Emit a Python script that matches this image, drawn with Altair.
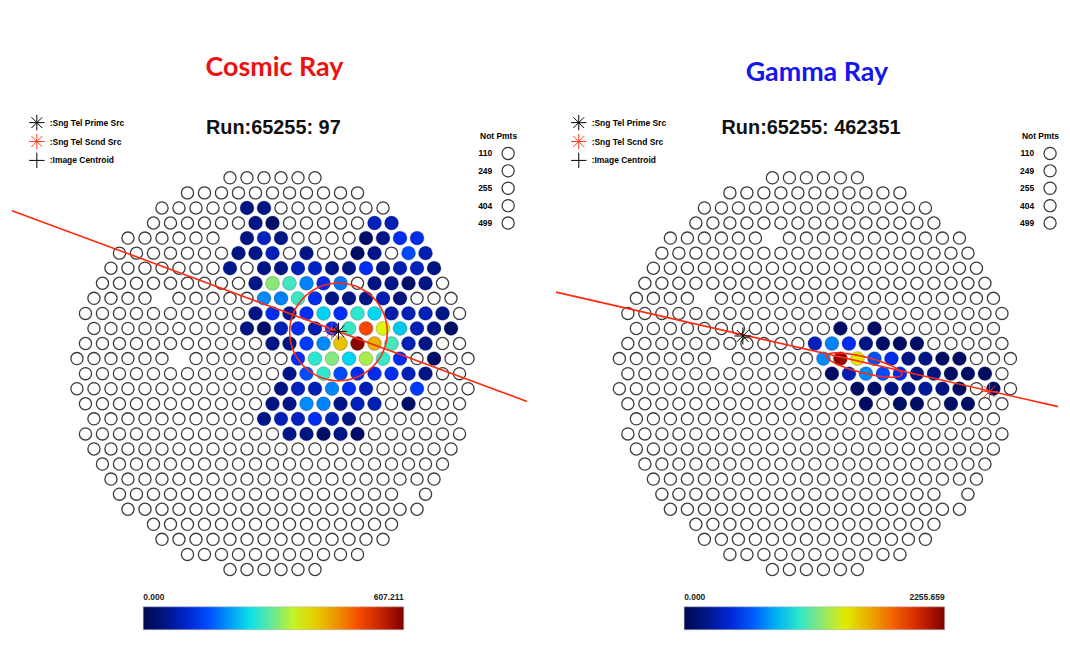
import math
import altair as alt
import pandas as pd

# ---------------- data ----------------
# camera layout: number of PMTs in each of the 27 hexagonal rows (top -> bottom)
ROW_COUNTS = [6, 11, 14, 15, 18, 19, 20, 21, 22, 23, 22, 23, 24, 23,
              24, 23, 22, 23, 22, 21, 20, 19, 18, 15, 14, 11, 6]
# camera positions that carry no PMT (row, column offset from centre)
GAP_ROWS = [4, 8, 12, 21]
GAP_COLS = [-2.5, -6.5, -5.5, 8.0]
NOT_PMT_IDS = ["110", "249", "255", "404", "499"]

MARKER_NAMES = [":Sng Tel Prime Src", ":Sng Tel Scnd Src", ":Image Centroid"]

# ---- cosmic ray event (left) ----
COSMIC_TITLE = "Cosmic Ray"
COSMIC_RUN = "Run:65255: 97"
COSMIC_MAX = 607.211
COSMIC_COLS = {
    2: [-1.5, -0.5],
    3: [-1, 0, 6, 7],
    4: [-1.5, -0.5, 0.5, 5.5, 6.5, 7.5, 8.5],
    5: [-2, -1, 0, 2, 5, 6, 8, 9],
    6: [-2.5, -0.5, 0.5, 1.5, 2.5, 3.5, 4.5, 5.5, 6.5, 7.5, 8.5, 9.5],
    7: [-1, 0, 1, 2, 3, 4, 6, 7, 8, 9],
    8: [-0.5, 0.5, 1.5, 2.5, 3.5, 4.5, 5.5, 6.5, 7.5],
    9: [-1, 0, 1, 2, 3, 4, 5, 6, 7, 8, 9, 10],
    10: [-1.5, -0.5, 0.5, 1.5, 2.5, 3.5, 4.5, 5.5, 6.5, 7.5, 8.5, 9.5, 10.5],
    11: [0, 1, 2, 3, 4, 5, 6, 7, 8, 9],
    12: [1.5, 2.5, 3.5, 4.5, 5.5, 6.5, 7.5, 9.5],
    13: [1, 2, 3, 4, 5, 6, 7, 8, 9],
    14: [0.5, 1.5, 2.5, 3.5, 4.5, 5.5, 8.5],
    15: [0, 1, 2, 3, 4, 5, 6, 8],
    16: [-0.5, 0.5, 1.5, 2.5, 3.5, 4.5],
    17: [1, 2, 3, 4, 5],
}
COSMIC_VALS = {
    2: [48, 52],
    3: [50, 22, 88, 84],
    4: [47, 90, 49, 21, 55, 122, 118],
    5: [46, 51, 86, 48, 19, 53, 150, 82],
    6: [58, 50, 47, 87, 92, 52, 49, 125, 50, 80, 88, 45],
    7: [52, 318, 280, 186, 118, 178, 49, 53, 22, 50],
    8: [190, 185, 276, 121, 51, 48, 52, 83, 46],
    9: [49, 122, 60, 126, 235, 124, 270, 238, 78, 84, 88, 51],
    10: [50, 20, 86, 124, 80, 128, 275, 505, 362, 228, 85, 48, 21],
    11: [52, 49, 140, 190, 412, 598, 425, 282, 86, 52],
    12: [126, 268, 315, 236, 335, 274, 125, 20],
    13: [50, 152, 272, 150, 122, 119, 124, 85, 51],
    14: [50, 87, 84, 188, 121, 83, 140],
    15: [48, 52, 192, 186, 49, 86, 82, 21],
    16: [51, 85, 88, 124, 84, 47],
    17: [53, 49, 22, 50, 20],
}
COSMIC_MARK_NAMES = [":Sng Tel Scnd Src", ":Sng Tel Prime Src"]
COSMIC_MARK_COLS = [3.49, 3.88]
COSMIC_MARK_ROWS = [10.2, 10.19]
COSMIC_AXIS_COLS = [-15.32, 14.97]
COSMIC_AXIS_ROWS = [2.18, 14.85]
# ellipse: centre col, centre row, half length, half width (column units), angle (deg)
COSMIC_ELLIPSE = [3.88, 10.23, 2.87, 2.87, 0.0]

# ---- gamma ray event (right) ----
GAMMA_TITLE = "Gamma Ray"
GAMMA_RUN = "Run:65255: 462351"
GAMMA_MAX = 2255.659
GAMMA_COLS = {
    10: [1.5, 3.5],
    11: [0, 1, 2, 3, 4, 5, 6],
    12: [0.5, 1.5, 2.5, 3.5, 4.5, 5.5, 6.5, 7.5, 8.5],
    13: [1, 2, 3, 4, 5, 6, 7, 8, 9, 10],
    14: [2.5, 3.5, 4.5, 5.5, 6.5, 7.5, 8.5, 10.5],
    15: [3, 5, 6, 8, 9],
}
GAMMA_VALS = {
    10: [70, 65],
    11: [320, 690, 455, 185, 72, 66, 70],
    12: [710, 2210, 1400, 570, 450, 178, 182, 68, 64],
    13: [70, 310, 705, 560, 448, 185, 176, 66, 72, 64],
    14: [68, 72, 180, 186, 250, 175, 66, 70],
    15: [66, 70, 64, 68, 72],
}
GAMMA_MARK_NAMES = [":Sng Tel Prime Src", ":Sng Tel Scnd Src"]
GAMMA_MARK_COLS = [-4.24, 10.26]
GAMMA_MARK_ROWS = [10.5, 14.19]
GAMMA_AXIS_COLS = [-15.23, 14.30]
GAMMA_AXIS_ROWS = [7.59, 15.19]
GAMMA_ELLIPSE = [2.91, 12.43, 2.28, 0.47, 14.0]

# jet-like colour map of the colour bar
STOPS = [0, .10, .22, .32, .40, .46, .53, .60, .68, .76, .84, .92, 1.0]
JET = ["#000850", "#001890", "#0030ff", "#0090f8", "#00e0f0", "#40e8c0",
       "#90e870", "#e0f800", "#e8c000", "#f08800", "#f84000", "#c02000", "#800000"]

# ---------------- layout / style ----------------
FONT = "Liberation Sans"
PX_COL = 17.1      # pixels per column step
PX_ROW = 15.15     # pixels per row step
PLOT_H = 490
Y_LO = -79 / PX_ROW
ROW_ASPECT = PX_ROW / PX_COL
STAR = "M-1,0L1,0M0,-1L0,1M-0.7,-0.7L0.7,0.7M-0.7,0.7L0.7,-0.7"
CROSS = "M-1,0L1,0M0,-1L0,1"
RED = "#ff2a10"


def camera_panel(title, title_color, title_dx, title_dy, run_text, run_col,
                 cols_map, vals_map, vmax, mk_names, mk_cols, mk_rows,
                 axis_cols, axis_rows, ell, width, x_lo, leg):
    xs = alt.Scale(domain=[x_lo, x_lo + width / PX_COL], nice=False, zero=False)
    ys = alt.Scale(domain=[Y_LO, Y_LO + PLOT_H / PX_ROW], nice=False, zero=False,
                   reverse=True)
    X = alt.X("c:Q", scale=xs, axis=None)
    Y = alt.Y("r:Q", scale=ys, axis=None)

    hit_r, hit_c, hit_v = [], [], []
    for r in cols_map:
        for c, v in zip(cols_map[r], vals_map[r]):
            hit_r.append(r)
            hit_c.append(c)
            hit_v.append(v)
    hit_df = pd.DataFrame({"r": hit_r, "c": hit_c, "v": hit_v})
    taken = set(zip(hit_r, hit_c)) | set(zip(GAP_ROWS, GAP_COLS))

    er, ec = [], []
    for r, n in enumerate(ROW_COUNTS):
        for i in range(n):
            c = i - (n - 1) / 2
            if (r, c) not in taken:
                er.append(r)
                ec.append(c)
    empty_df = pd.DataFrame({"r": er, "c": ec})

    empty = alt.Chart(empty_df).mark_circle(
        size=150, fill="white", stroke="#3c3c3c", strokeWidth=1.3, opacity=1
    ).encode(x=X, y=Y)

    hits = alt.Chart(hit_df).mark_circle(
        size=195, opacity=1, stroke="#101030", strokeWidth=0.4, strokeOpacity=0.6
    ).encode(
        x=X, y=Y,
        color=alt.Color(
            "v:Q",
            scale=alt.Scale(domain=[s * vmax for s in STOPS], range=JET,
                            interpolate="rgb"),
            legend=alt.Legend(
                orient="none", legendX=leg["bar_x"], legendY=510.5,
                direction="horizontal", title=None, gradientLength=262,
                gradientThickness=23, values=[0, vmax], format=".3f",
                labelFont=FONT, labelFontSize=8.5, labelFontWeight="bold",
                labelColor="#222222", labelOffset={"expr": "-37"},
                gradientStrokeColor="#b0b0b0", gradientStrokeWidth=0.5,
                padding=0,
            ),
        ),
    )

    axis_df = pd.DataFrame({"c": axis_cols, "r": axis_rows, "k": [0, 1]})
    axis_line = alt.Chart(axis_df).mark_line(color=RED, strokeWidth=1.6).encode(
        x=X, y=Y, order="k:Q")

    cx, cy, a, b, ang = ell
    th = math.radians(ang)
    ec_, er_, ek = [], [], []
    for k in range(121):
        t = 2 * math.pi * k / 120
        dx = a * math.cos(t) * math.cos(th) - b * math.sin(t) * math.sin(th)
        dy = a * math.cos(t) * math.sin(th) + b * math.sin(t) * math.cos(th)
        ec_.append(cx + dx)
        er_.append(cy + dy / ROW_ASPECT)
        ek.append(k)
    ring_df = pd.DataFrame({"c": ec_, "r": er_, "k": ek})
    ring = alt.Chart(ring_df).mark_line(color=RED, strokeWidth=1.6).encode(
        x=X, y=Y, order="k:Q")

    mk_df = pd.DataFrame({"name": mk_names, "c": mk_cols, "r": mk_rows})
    mk_legend = alt.Legend(
        orient="none", legendX=leg["mk_x"], legendY=15, title=None,
        symbolSize=240, symbolStrokeWidth=1, labelFont=FONT, labelFontSize=8.5,
        labelFontWeight="bold", labelColor="black", labelOffset=4.5,
        rowPadding={"expr": "-9"}, padding=0,
    )
    markers = alt.Chart(mk_df).mark_point(filled=False, size=289, strokeWidth=1,
                                          opacity=1).encode(
        x=X, y=Y,
        shape=alt.Shape("name:N", scale=alt.Scale(domain=MARKER_NAMES,
                                                  range=[STAR, STAR, CROSS]),
                        legend=mk_legend),
        stroke=alt.Stroke("name:N", scale=alt.Scale(domain=MARKER_NAMES,
                                                    range=["#000000", "#ff3a1a", "#000000"]),
                          legend=mk_legend),
    )

    run_df = pd.DataFrame({"t": [run_text], "c": [run_col], "r": [-3.3]})
    run = alt.Chart(run_df).mark_text(font=FONT, fontSize=20, fontWeight="bold",
                                      color="#111111").encode(x=X, y=Y, text="t:N")

    np_df = pd.DataFrame({"id": NOT_PMT_IDS, "c": [None] * 5, "r": [None] * 5})
    notpmt = alt.Chart(np_df).mark_point(shape="circle", filled=False,
                                         stroke="#333333", strokeWidth=1.2,
                                         opacity=1).encode(
        x=X, y=Y,
        size=alt.Size("id:O", scale=alt.Scale(domain=NOT_PMT_IDS, range=[150] * 5),
                      legend=alt.Legend(
                          orient="none", legendX=leg["np_x"], legendY=33,
                          title="Not Pmts", titleFont=FONT, titleFontSize=8.5,
                          titleFontWeight="bold", titleColor="black",
                          titleAnchor="end", titlePadding=6,
                          labelAlign="right", labelOffset={"expr": "-23"},
                          labelFont=FONT,
                          labelFontSize=8.5, labelFontWeight="bold",
                          labelColor="black", symbolType="circle",
                          symbolStrokeWidth=1.2, symbolStrokeColor="#333333",
                          symbolFillColor="white", rowPadding={"expr": "-0.5"},
                          padding=0,
                      )),
    )

    return alt.layer(empty, hits, axis_line, ring, markers, run, notpmt).properties(
        width=width, height=PLOT_H,
        title=alt.TitleParams(title, color=title_color, font="Lato", fontSize=27,
                              fontWeight="bold", anchor="middle", offset=17.5,
                              dx=title_dx, dy=title_dy),
    )


left = camera_panel(COSMIC_TITLE, "#ee1111", 0, 0, COSMIC_RUN, 0.05,
                    COSMIC_COLS, COSMIC_VALS, COSMIC_MAX,
                    COSMIC_MARK_NAMES, COSMIC_MARK_COLS, COSMIC_MARK_ROWS,
                    COSMIC_AXIS_COLS, COSMIC_AXIS_ROWS, COSMIC_ELLIPSE,
                    532, -264 / PX_COL,
                    {"bar_x": 134, "mk_x": 18.5, "np_x": 473})
right = camera_panel(GAMMA_TITLE, "#1515ee", 16, 5, GAMMA_RUN, -0.23,
                     GAMMA_COLS, GAMMA_VALS, GAMMA_MAX,
                     GAMMA_MARK_NAMES, GAMMA_MARK_COLS, GAMMA_MARK_ROWS,
                     GAMMA_AXIS_COLS, GAMMA_AXIS_ROWS, GAMMA_ELLIPSE,
                     517, -272.5 / PX_COL,
                     {"bar_x": 141, "mk_x": 26.5, "np_x": 481})

chart = alt.hconcat(
    left, right, spacing=5, background="white",
    padding={"top": 44, "left": 0, "right": 0, "bottom": 0},
).resolve_scale(
    color="independent", shape="independent", stroke="independent",
    size="independent", x="independent", y="independent",
).configure_view(strokeWidth=0, stroke="transparent")

chart.save("out.html", embed_options={"renderer": "svg", "actions": False})
